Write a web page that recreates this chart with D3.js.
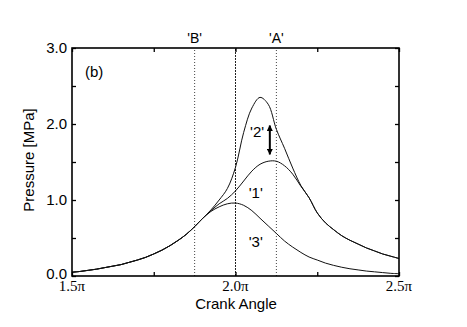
<!DOCTYPE html>
<html><head><meta charset="utf-8">
<script src="https://cdn.jsdelivr.net/npm/d3@7"></script>
<style>
body{margin:0;background:#fff;}
svg{display:block;}
</style></head>
<body>
<svg id="chart" width="467" height="327"></svg>
<script>
// Crank angle in units of π
const angles = [1.5,1.525,1.55,1.575,1.6,1.625,1.65,1.675,1.7,1.725,1.75,1.775,1.8,1.825,1.85,1.875,1.9,1.925,1.95,1.975,2.0,2.025,2.05,2.075,2.1,2.125,2.15,2.175,2.2,2.225,2.25,2.275,2.3,2.325,2.35,2.375,2.4,2.425,2.45,2.475,2.5];
// Pressure [MPa]
const curve1 = [0.05,0.06,0.075,0.09,0.11,0.13,0.15,0.18,0.21,0.245,0.29,0.34,0.40,0.47,0.55,0.65,0.76,0.86,0.95,1.02,1.12,1.25,1.38,1.47,1.51,1.51,1.45,1.34,1.18,1.03,0.83,0.70,0.61,0.53,0.47,0.42,0.37,0.33,0.29,0.26,0.23];
const curve2 = [0.05,0.06,0.075,0.09,0.11,0.13,0.15,0.18,0.21,0.245,0.29,0.34,0.40,0.47,0.55,0.65,0.76,0.87,1.00,1.15,1.43,1.89,2.21,2.35,2.26,1.93,1.68,1.42,1.19,1.03,0.83,0.70,0.61,0.53,0.47,0.42,0.37,0.33,0.29,0.26,0.23];
const curve3 = [0.05,0.06,0.075,0.09,0.11,0.13,0.15,0.18,0.21,0.245,0.29,0.34,0.40,0.47,0.55,0.65,0.76,0.85,0.91,0.95,0.96,0.93,0.86,0.76,0.66,0.56,0.46,0.38,0.31,0.25,0.21,0.17,0.14,0.115,0.095,0.08,0.065,0.055,0.045,0.035,0.03];
const seriesNames = ["'1'","'2'","'3'"];
const xMajorTicks = [1.5,2.0,2.5];
const xMinorTicks = [1.75,2.25];
const yMajorTicks = [0,1,2,3];
const yMinorTicks = [0.5,1.5,2.5];
const markerLines = [{name:"'B'",angle:1.875,style:"dot"},{name:"",angle:2.0,style:"dash"},{name:"'A'",angle:2.125,style:"dot"}];
const labelPos = [{text:"'2'",a:2.066,p:1.89},{text:"'1'",a:2.062,p:1.09},{text:"'3'",a:2.062,p:0.45}];
const arrow = {a:2.105,from:1.98,to:1.60};

const svg = d3.select("#chart");
const x = d3.scaleLinear().domain([1.5,2.5]).range([72,399]);
const y = d3.scaleLinear().domain([0,3]).range([276,48]);
const sans = "'Liberation Sans', Arial, Helvetica, sans-serif";
const serif = "'Liberation Serif', 'Times New Roman', serif";

// marker lines
markerLines.forEach(m=>{
  svg.append("line").attr("x1",x(m.angle)).attr("x2",x(m.angle)).attr("y1",y(0)).attr("y2",y(3))
    .attr("stroke", m.style==="dash" ? "#222" : "#444")
    .attr("stroke-width",1)
    .attr("stroke-dasharray", m.style==="dash" ? "2,1" : "1,2");
  if(m.name) svg.append("text").attr("x",x(m.angle)).attr("y",43).attr("text-anchor","middle")
    .attr("font-family",sans).attr("font-size",14).text(m.name);
});

// curves
const line = d3.line().x((d,i)=>x(angles[i])).y(d=>y(d)).curve(d3.curveCatmullRom.alpha(0.5));
[curve1,curve2,curve3].forEach(c=>{
  svg.append("path").attr("d",line(c)).attr("fill","none").attr("stroke","#111").attr("stroke-width",1);
});

// frame
svg.append("rect").attr("x",x(1.5)).attr("y",y(3)).attr("width",x(2.5)-x(1.5)).attr("height",y(0)-y(3))
  .attr("fill","none").attr("stroke","#000").attr("stroke-width",1.6);

// axes with inward ticks
const tl = 4;
const xAxisB = d3.axisBottom(x).tickValues(xMajorTicks.concat(xMinorTicks)).tickSize(-tl).tickFormat("");
const xAxisT = d3.axisTop(x).tickValues(xMajorTicks.concat(xMinorTicks)).tickSize(-tl).tickFormat("");
const yAxisL = d3.axisLeft(y).tickValues(yMajorTicks.concat(yMinorTicks)).tickSize(-tl).tickFormat("");
const yAxisR = d3.axisRight(y).tickValues(yMajorTicks.concat(yMinorTicks)).tickSize(-tl).tickFormat("");
[[xAxisB,`translate(0,${y(0)})`],[xAxisT,`translate(0,${y(3)})`],[yAxisL,`translate(${x(1.5)},0)`],[yAxisR,`translate(${x(2.5)},0)`]].forEach(([ax,t])=>{
  const g = svg.append("g").attr("transform",t).call(ax);
  g.select(".domain").remove();
  g.selectAll("line").attr("stroke","#000").attr("stroke-width",1.3);
});

// tick labels
svg.selectAll(".xl").data(xMajorTicks).join("text").attr("class","xl")
  .attr("x",d=>x(d)).attr("y",291).attr("text-anchor","middle")
  .attr("font-family",serif).attr("font-size",15).text(d=>d.toFixed(1)+"π");
svg.selectAll(".yl").data(yMajorTicks).join("text").attr("class","yl")
  .attr("x",67).attr("y",d=>y(d)+(d===0?3:5)).attr("text-anchor","end")
  .attr("font-family",sans).attr("font-size",15).text(d=>d.toFixed(1));

// axis titles
svg.append("text").attr("x",236).attr("y",309).attr("text-anchor","middle")
  .attr("font-family",sans).attr("font-size",15).text("Crank Angle");
svg.append("text").attr("transform","translate(34,160) rotate(-90)").attr("text-anchor","middle")
  .attr("font-family",sans).attr("font-size",15).text("Pressure [MPa]");

// panel label
svg.append("text").attr("x",85).attr("y",77).attr("font-family",sans).attr("font-size",15).text("(b)");

// series labels
labelPos.forEach(l=>{
  svg.append("text").attr("x",x(l.a)).attr("y",y(l.p)+5).attr("text-anchor","middle")
    .attr("font-family",sans).attr("font-size",15).text(l.text);
});

// double arrow
const defs = svg.append("defs");
defs.append("marker").attr("id","ah").attr("viewBox","0 0 10 10").attr("refX",9).attr("refY",5)
  .attr("markerWidth",6).attr("markerHeight",6).attr("markerUnits","userSpaceOnUse").attr("orient","auto-start-reverse")
  .append("path").attr("d","M0,0 L10,5 L0,10 z").attr("fill","#000");
svg.append("line").attr("x1",x(arrow.a)).attr("x2",x(arrow.a)).attr("y1",y(arrow.from)).attr("y2",y(arrow.to))
  .attr("stroke","#000").attr("stroke-width",2)
  .attr("marker-start","url(#ah)").attr("marker-end","url(#ah)");
</script>
</body></html>
